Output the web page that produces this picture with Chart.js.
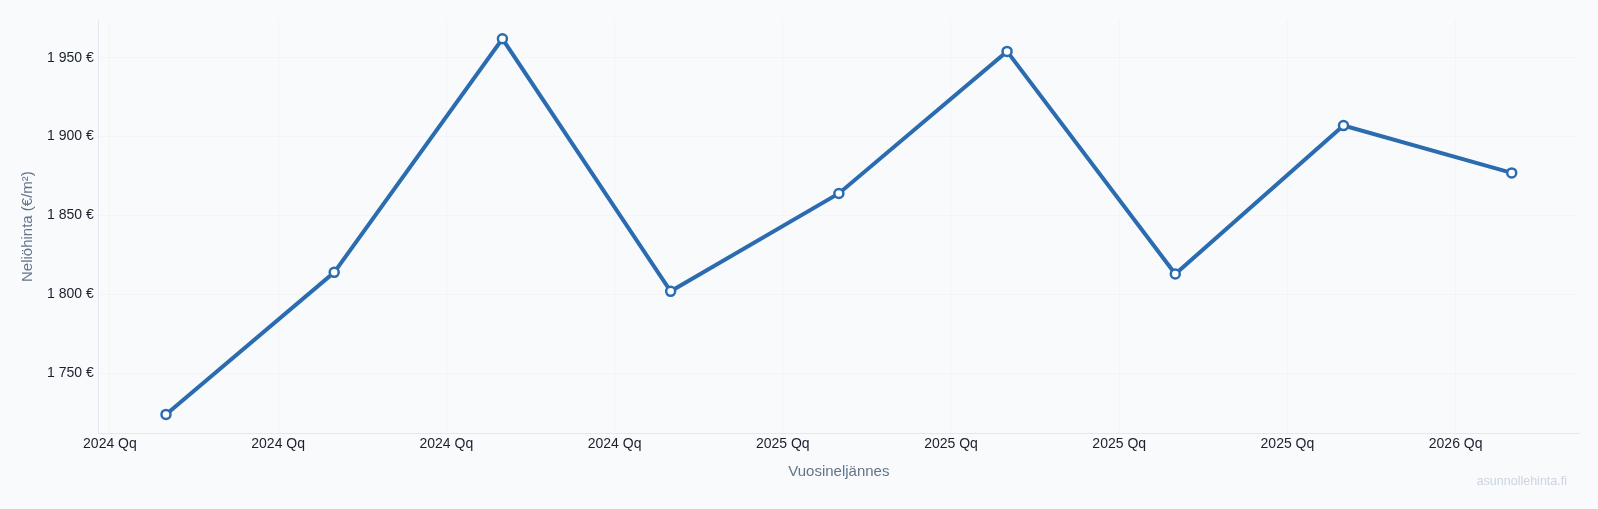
<!DOCTYPE html>
<html lang="fi">
<head>
<meta charset="utf-8">
<title>Neliöhinta</title>
<script src="https://cdn.jsdelivr.net/npm/chart.js@4/dist/chart.umd.min.js"></script>
<style>
  html, body { margin: 0; padding: 0; background: #f8fafc; }
  .wrap { position: relative; width: 1598px; height: 509px; }
  .mark {
    position: absolute; right: 31px; bottom: 21px;
    font: 12.5px "Liberation Sans", Arial, sans-serif; color: #cbd5e0;
  }
</style>
</head>
<body>
<div class="wrap">
  <canvas id="priceChart"></canvas>
  <div class="mark">asunnollehinta.fi</div>
</div>
<script>
// quarters (tick labels come out as "yyyy Qq" in the original)
const quarters = ['2024 Q1', '2024 Q2', '2024 Q3', '2024 Q4', '2025 Q1', '2025 Q2', '2025 Q3', '2025 Q4', '2026 Q1'];
const prices = [1724, 1814, 1962, 1802, 1864, 1954, 1813, 1907, 1877];
const tickLabels = ['2024 Qq', '2024 Qq', '2024 Qq', '2024 Qq', '2025 Qq', '2025 Qq', '2025 Qq', '2025 Qq', '2026 Qq'];

const lo = Math.min(...prices), hi = Math.max(...prices);
const grace = (hi - lo) * 0.05;

const fmtEur = v => Math.round(v).toLocaleString('fi-FI').replace(/\s/g, ' ') + ' €';
const font = '"Liberation Sans", Arial, sans-serif';

const ctx = document.getElementById('priceChart').getContext('2d');
const priceChart = new Chart(ctx, {
  type: 'line',
  data: {
    datasets: [{
      label: 'Neliöhinta',
      data: prices.map((p, i) => ({ x: i, y: p })),
      borderColor: '#2b6cb0',
      backgroundColor: '#ffffff',
      borderWidth: 4,
      pointRadius: 4.5,
      pointBorderWidth: 2.5,
      pointBackgroundColor: '#ffffff',
      pointBorderColor: '#2b6cb0',
      tension: 0
    }]
  },
  options: {
    responsive: true,
    maintainAspectRatio: false,
    animation: false,
    layout: { padding: { top: 20, right: 19, bottom: 24, left: 15 } },
    plugins: {
      legend: { display: false },
      tooltip: { enabled: false }
    },
    scales: {
      x: {
        type: 'linear',
        min: -0.4,
        max: quarters.length - 1 + 0.4,
        afterBuildTicks: axis => {
          axis.ticks = tickLabels.map((_, i) => ({ value: i - 1 / 3 }));
        },
        ticks: {
          autoSkip: false,
          maxRotation: 0,
          padding: 3,
          color: '#1a202c',
          font: { family: font, size: 14 },
          callback: (v, i) => tickLabels[i]
        },
        grid: { color: 'rgba(226,232,240,0.25)', drawTicks: false },
        border: { color: '#e2e8f0' },
        title: {
          display: true,
          text: 'Vuosineljännes',
          color: '#64748b',
          font: { family: font, size: 15 },
          padding: { top: 7, bottom: 4 }
        }
      },
      y: {
        min: lo - grace,
        max: hi + grace,
        ticks: {
          stepSize: 50,
          includeBounds: false,
          padding: 5,
          color: '#1a202c',
          font: { family: font, size: 14 },
          callback: v => fmtEur(v)
        },
        grid: { color: 'rgba(226,232,240,0.25)', drawTicks: false },
        border: { color: '#e2e8f0' },
        title: {
          display: true,
          text: 'Neliöhinta (€/m²)',
          color: '#64748b',
          font: { family: font, size: 15 },
          padding: { top: 4, bottom: 5 }
        }
      }
    }
  }
});
</script>
</body>
</html>
